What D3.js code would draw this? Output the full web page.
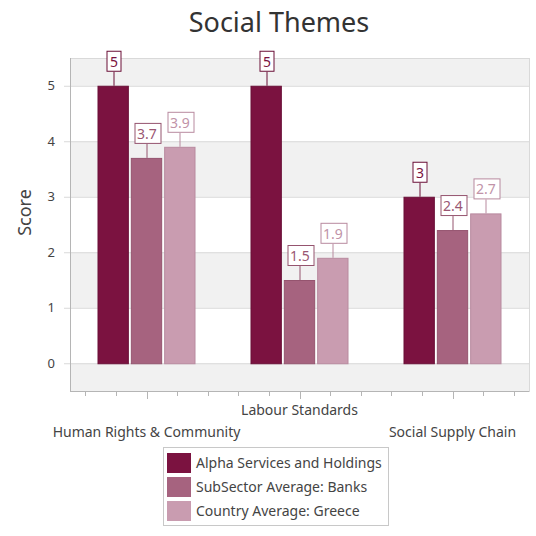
<!DOCTYPE html>
<html>
<head>
<meta charset="utf-8">
<script src="https://cdn.jsdelivr.net/npm/d3@7/dist/d3.min.js"></script>
<style>
  body { margin: 0; background: #fff; }
  text { font-family: "Noto Sans", "Open Sans", sans-serif; }
</style>
</head>
<body>
<div id="chart"></div>
<script>
var categories = ["Human Rights & Community", "Labour Standards", "Social Supply Chain"];
var seriesNames = ["Alpha Services and Holdings", "SubSector Average: Banks", "Country Average: Greece"];
var alphaValues = [5, 5, 3];
var subsectorValues = [3.7, 1.5, 2.4];
var countryValues = [3.9, 1.9, 2.7];
var yTicks = [0, 1, 2, 3, 4, 5];

var colors = ["#7b1240", "#a6637f", "#c99cb0"];
var strokes = ["#6a0f37", "#95546f", "#b88a9f"];
var labelColors = ["#7b1240", "#9a5673", "#c193a8"];

var width = 536, height = 536;
var plot = { left: 70, right: 529, top: 58, bottom: 391 };

var svg = d3.select("#chart").append("svg")
    .attr("width", width)
    .attr("height", height);

var x = d3.scaleBand()
    .domain(categories)
    .range([plot.left, plot.right]);

var xInner = d3.scaleBand()
    .domain(d3.range(seriesNames.length))
    .range([0, 98])
    .paddingInner(0.06);

var y = d3.scaleLinear()
    .domain([-0.5, 5.5])
    .range([plot.bottom, plot.top]);

// alternating bands
var bands = [-0.5].concat(yTicks);
svg.append("g").selectAll("rect")
    .data(bands)
    .enter().append("rect")
    .attr("x", plot.left)
    .attr("width", plot.right - plot.left)
    .attr("y", function(d) { return y(Math.min(d + (d < 0 ? 0.5 : 1), 5.5)); })
    .attr("height", function(d) { var top = Math.min(d + (d < 0 ? 0.5 : 1), 5.5); return y(d) - y(top); })
    .style("fill", function(d, i) { return i % 2 === 0 ? "#f1f1f1" : "#ffffff"; });

// grid lines
svg.append("g").selectAll("line")
    .data(yTicks)
    .enter().append("line")
    .attr("x1", plot.left - 6)
    .attr("x2", plot.right)
    .attr("y1", function(d) { return y(d) + 0.5; })
    .attr("y2", function(d) { return y(d) + 0.5; })
    .style("stroke", "#d9d9d9");

// plot border
svg.append("rect")
    .attr("x", plot.left + 0.5)
    .attr("y", plot.top + 0.5)
    .attr("width", plot.right - plot.left)
    .attr("height", plot.bottom - plot.top)
    .style("fill", "none")
    .style("stroke", "#d9d9d9");

svg.append("line")
    .attr("x1", plot.left + 0.5).attr("x2", plot.left + 0.5)
    .attr("y1", plot.top).attr("y2", plot.bottom)
    .style("stroke", "#b5b5b5");
svg.append("line")
    .attr("x1", plot.left).attr("x2", plot.right)
    .attr("y1", plot.bottom + 0.5).attr("y2", plot.bottom + 0.5)
    .style("stroke", "#b5b5b5");

// y axis labels
svg.append("g").selectAll("text")
    .data(yTicks)
    .enter().append("text")
    .attr("x", 55)
    .attr("y", function(d) { return y(d); })
    .attr("dy", "0.35em")
    .attr("text-anchor", "end")
    .style("font-size", "13px")
    .style("fill", "#444")
    .text(function(d) { return d; });

svg.append("text")
    .attr("transform", "translate(31," + ((plot.top + plot.bottom) / 2 - 12) + ") rotate(-90)")
    .attr("text-anchor", "middle")
    .style("font-size", "18px")
    .style("fill", "#444")
    .text("Score");

// x ticks (major + minor)
var step = x.bandwidth();
var tickData = d3.range(-2, 13).map(function(i) { return plot.left + step / 2 + i * step / 5; })
    .filter(function(v) { return v > plot.left + 5 && v < plot.right; });
svg.append("g").selectAll("line")
    .data(tickData)
    .enter().append("line")
    .attr("x1", function(d) { return Math.round(d) + 0.5; })
    .attr("x2", function(d) { return Math.round(d) + 0.5; })
    .attr("y1", plot.bottom)
    .attr("y2", function(d, i) {
      var major = categories.some(function(c) { return Math.abs(x(c) + step / 2 - d) < 1; });
      return plot.bottom + (major ? 8 : 5);
    })
    .style("stroke", "#b5b5b5");

// category labels, staggered
svg.append("g").selectAll("text")
    .data(categories)
    .enter().append("text")
    .attr("x", function(d) { return x(d) + step / 2; })
    .attr("y", function(d, i) { return i % 2 === 1 ? 415 : 437; })
    .attr("text-anchor", "middle")
    .style("font-size", "14px")
    .style("fill", "#444")
    .text(function(d) { return d; });

// bars
var seriesValues = [alphaValues, subsectorValues, countryValues];
var groups = svg.append("g").selectAll("g")
    .data(categories)
    .enter().append("g")
    .attr("transform", function(d) { return "translate(" + (x(d) + step / 2 - 49) + ",0)"; });

groups.each(function(cat, ci) {
  var g = d3.select(this);
  seriesValues.forEach(function(vals, si) {
    var v = vals[ci];
    var bx = xInner(si);
    var bw = xInner.bandwidth();
    g.append("rect")
      .attr("x", bx + 0.5)
      .attr("y", y(v) + 0.5)
      .attr("width", bw - 1)
      .attr("height", y(0) - y(v))
      .style("fill", colors[si])
      .style("stroke", strokes[si]);

    // value label with connector
    var cx = Math.round(bx + bw / 2) + 0.5;
    var label = g.append("g");
    label.append("line")
      .attr("x1", cx).attr("x2", cx)
      .attr("y1", y(v))
      .attr("y2", y(v) - 14)
      .style("stroke", strokes[si]);
    var t = label.append("text")
      .attr("x", cx)
      .attr("y", y(v) - 19)
      .attr("text-anchor", "middle")
      .style("font-size", "14px")
      .style("fill", labelColors[si])
      .text(v);
    var bb = t.node().getBBox();
    label.insert("rect", "text")
      .attr("x", Math.round(cx - bb.width / 2 - 3) + 0.5)
      .attr("y", y(v) - 34.5)
      .attr("width", Math.round(bb.width + 6))
      .attr("height", 20)
      .style("fill", "#fff")
      .style("stroke", strokes[si]);
  });
});

// title
svg.append("text")
    .attr("x", 279)
    .attr("y", 32)
    .attr("text-anchor", "middle")
    .style("font-size", "27px")
    .style("fill", "#333")
    .text("Social Themes");

// legend
var legend = svg.append("g").attr("class", "legend");
legend.append("rect")
    .attr("x", 163.5).attr("y", 447.5)
    .attr("width", 225).attr("height", 78)
    .style("fill", "#fff")
    .style("stroke", "#c8c8c8");

legend.selectAll("g.item")
    .data(seriesNames)
    .enter().append("g")
    .attr("class", "item")
    .each(function(d, i) {
      var g = d3.select(this);
      g.append("rect")
        .attr("x", 167)
        .attr("y", 453 + i * 24)
        .attr("width", 24)
        .attr("height", 20)
        .style("fill", colors[i]);
      g.append("text")
        .attr("x", 196)
        .attr("y", 463 + i * 24)
        .attr("dy", "0.35em")
        .style("font-size", "14px")
        .style("fill", "#444")
        .text(d);
    });
</script>
</body>
</html>
